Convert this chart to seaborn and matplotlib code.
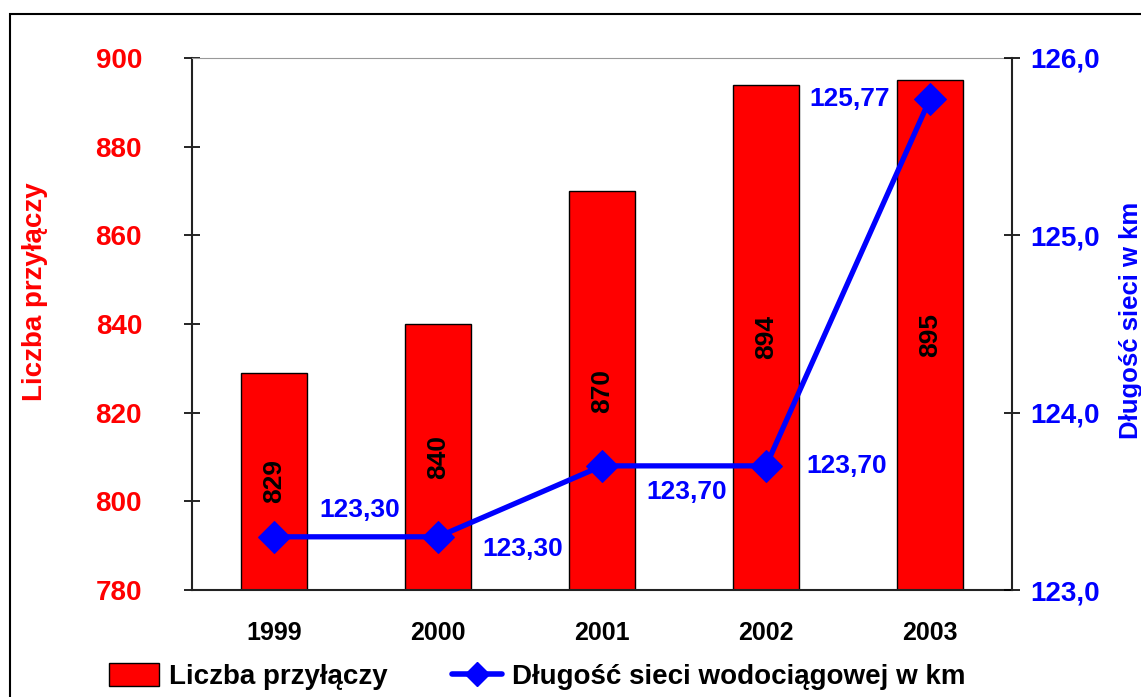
import matplotlib
matplotlib.use("Agg")
import matplotlib.pyplot as plt
import matplotlib.ticker as mticker
from matplotlib.lines import Line2D
from matplotlib.patches import Patch, Rectangle
import numpy as np
import pandas as pd
import seaborn as sns

years = ["1999", "2000", "2001", "2002", "2003"]
connections = [829, 840, 870, 894, 895]
network_km = [123.30, 123.30, 123.70, 123.70, 125.77]
left_ticks = [780, 800, 820, 840, 860, 880, 900]
right_ticks = [123.0, 124.0, 125.0, 126.0]
bar_label = "Liczba przyłączy"
line_label = "Długość sieci wodociągowej w km"
right_axis_label = "Długość sieci w km"

sns.set_style("white")
plt.rcParams["font.family"] = ["Liberation Sans", "DejaVu Sans"]
plt.rcParams["font.weight"] = "bold"
plt.rcParams["text.color"] = "black"
plt.rcParams["xtick.color"] = "black"
plt.rcParams["ytick.color"] = "black"
plt.rcParams["axes.labelcolor"] = "black"

RED = "#FF0000"
BLUE = "#0000FF"

fig = plt.figure(figsize=(11.41, 6.97), dpi=100)
ax = fig.add_axes([0.1683, 0.1535, 0.7187, 0.7633])

df = pd.DataFrame({"year": years, "n": connections})
sns.barplot(data=df, x="year", y="n", ax=ax, color=RED, edgecolor="black",
            linewidth=1.0, width=0.4, saturation=1)
ax.set_ylim(780, 900)
ax.set_xlim(-0.5, 4.5)
ax.set_yticks(left_ticks)
ax.set_xlabel("")
ax.set_ylabel("")
ax.tick_params(axis="y", colors="black", labelcolor=RED, labelsize=20,
               direction="inout", length=12, width=1.2, pad=30)
for lab in ax.get_yticklabels():
    lab.set_fontweight("bold")

# x ticks at category boundaries, labels at centers
ax.set_xticks(np.arange(-0.5, 5, 1.0))
ax.set_xticklabels([])
ax.set_xticks(np.arange(len(years)), minor=True)
ax.set_xticklabels(years, minor=True, fontsize=18, fontweight="bold", color="black")
ax.tick_params(axis="x", which="major", direction="inout", length=14, width=1.0,
               colors="black")
ax.tick_params(axis="x", which="minor", length=0, pad=22, labelcolor="black")

for s in ["left", "bottom"]:
    ax.spines[s].set_color("#222222")
    ax.spines[s].set_linewidth(1.5)
ax.spines["top"].set_color("#999999")
ax.spines["right"].set_visible(False)

for i, v in enumerate(connections):
    ax.text(i, (780 + v) / 2, str(v), rotation=90, ha="center", va="center",
            fontsize=19, fontweight="bold", color="black")

ax2 = ax.twinx()
sns.lineplot(x=np.arange(len(years)), y=network_km, ax=ax2, color=BLUE,
             linewidth=3.8, marker="D", markersize=16, markeredgecolor=BLUE,
             legend=False)
ax2.set_ylim(123.0, 126.0)
ax2.set_xlim(-0.5, 4.5)
ax2.set_yticks(right_ticks)
ax2.yaxis.set_major_formatter(mticker.FuncFormatter(lambda v, p: f"{v:.1f}".replace(".", ",")))
ax2.tick_params(axis="y", colors="black", labelcolor=BLUE, labelsize=20,
                direction="inout", length=12, width=1.2, pad=7)
for lab in ax2.get_yticklabels():
    lab.set_fontweight("bold")
ax2.set_ylabel("")
for s in ["left", "top", "bottom"]:
    ax2.spines[s].set_visible(False)
ax2.spines["right"].set_color("#222222")
ax2.spines["right"].set_linewidth(1.5)

offsets = [(62, 19), (61, -9), (61, -19), (58, 0), (-58, 0)]
for i, (v, off) in enumerate(zip(network_km, offsets)):
    ax2.annotate(f"{v:.2f}".replace(".", ","), (i, v), xytext=off,
                 textcoords="offset points", ha="center", va="center",
                 fontsize=19, fontweight="bold", color=BLUE)

# axis titles
W, H = 1141, 697
fig.text(42 / W, 1 - 292 / H, bar_label, rotation=90, rotation_mode="anchor",
         ha="center", va="baseline", fontsize=20, fontweight="bold", color=RED)
fig.text(1138 / W, 1 - 320 / H, right_axis_label, rotation=90, rotation_mode="anchor",
         ha="center", va="baseline", fontsize=18.5, fontweight="bold", color=BLUE)

handles = [Patch(facecolor=RED, edgecolor="black", linewidth=1.0),
           Line2D([0], [0], color=BLUE, linewidth=4, marker="D", markersize=12)]
leg = fig.legend(handles, [bar_label, line_label], loc="center",
                 bbox_to_anchor=(0.471, 0.029), ncol=2, frameon=False,
                 prop={"size": 20, "weight": "bold"}, handlelength=1.8,
                 handleheight=0.9, columnspacing=2.3, handletextpad=0.36,
                 borderpad=0.2)
for t in leg.get_texts():
    t.set_color("black")

fig.patches.append(Rectangle((0.0088, -0.2), 1.5, 1.1795, transform=fig.transFigure,
                             fill=False, edgecolor="black", linewidth=1.5))

fig.savefig("out.png", dpi=100)
